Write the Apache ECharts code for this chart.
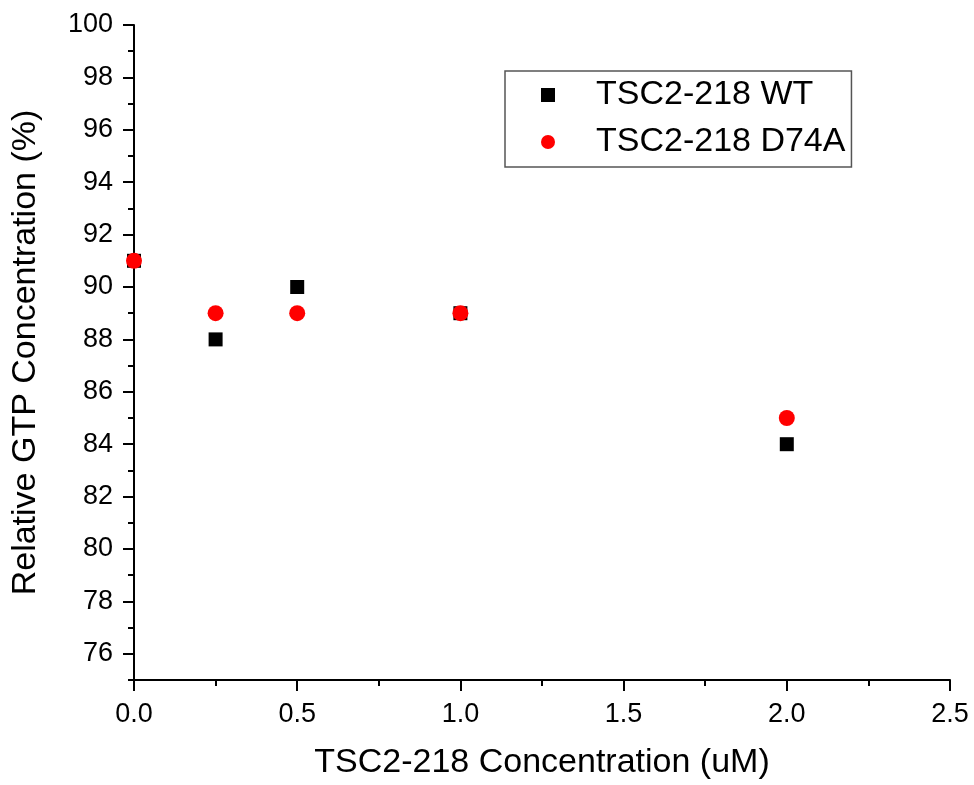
<!DOCTYPE html>
<html>
<head>
<meta charset="utf-8">
<script src="https://cdn.jsdelivr.net/npm/echarts@6/dist/echarts.min.js"></script>
<style>html,body{margin:0;padding:0;background:#fff}#c{width:974px;height:785px}</style>
</head>
<body>
<div id="c"></div>
<script>
var concentrations = [0, 0.25, 0.5, 1.0, 2.0];
var wtValues = [91, 88, 90, 89, 84];
var d74aValues = [91, 89, 89, 89, 85];
var seriesNames = ['TSC2-218 WT', 'TSC2-218 D74A'];
var yTickLabels = [76, 78, 80, 82, 84, 86, 88, 90, 92, 94, 96, 98, 100];
var yMinorTicks = [75, 77, 79, 81, 83, 85, 87, 89, 91, 93, 95, 97, 99];
var xTickLabels = [0, 0.5, 1.0, 1.5, 2.0, 2.5];

function pairs(xs, ys) { return xs.map(function (x, i) { return [x, ys[i]]; }); }

var FONT = 'Liberation Sans, Arial, sans-serif';
var chart = echarts.init(document.getElementById('c'), null, {renderer: 'canvas'});
chart.setOption({
  backgroundColor: '#fff',
  animation: false,
  textStyle: {fontFamily: FONT, color: '#000'},
  grid: {left: 134, right: 24, top: 25, bottom: 101, containLabel: false},
  legend: {
    orient: 'vertical', left: 505, top: 71,
    padding: [7, 6, 8, 36],
    itemWidth: 86, itemHeight: 14, itemGap: 13,
    symbolKeepAspect: true,
    borderColor: '#555', borderWidth: 1.5, backgroundColor: '#fff',
    textStyle: {fontSize: 34, color: '#000', fontFamily: FONT},
    data: [{name: seriesNames[0], icon: 'path://M0 0H10V10H0Z'}, {name: seriesNames[1], icon: 'circle'}]
  },
  xAxis: {
    type: 'value', min: 0, max: 2.5, interval: 0.5,
    name: 'TSC2-218 Concentration (uM)', nameLocation: 'middle', nameGap: 66,
    nameTextStyle: {fontSize: 34, color: '#000', fontFamily: FONT},
    axisLine: {show: true, onZero: false, lineStyle: {color: '#000', width: 2}},
    axisTick: {show: true, length: 11, lineStyle: {color: '#000', width: 2}, customValues: xTickLabels},
    minorTick: {show: true, splitNumber: 2, length: 6, lineStyle: {color: '#000', width: 2}},
    axisLabel: {fontSize: 27, color: '#000', margin: 21, fontFamily: FONT, customValues: xTickLabels,
      formatter: function (v) { return v.toFixed(1); }},
    splitLine: {show: false}
  },
  yAxis: [{
    type: 'value', min: 75, max: 100, interval: 1,
    name: 'Relative GTP Concentration (%)', nameLocation: 'middle', nameGap: 91,
    nameTextStyle: {fontSize: 34, color: '#000', fontFamily: FONT},
    axisLine: {show: true, onZero: false, lineStyle: {color: '#000', width: 2}},
    axisTick: {show: true, length: 11, lineStyle: {color: '#000', width: 2}, customValues: yTickLabels},
    axisLabel: {fontSize: 27, color: '#000', margin: 21, fontFamily: FONT, customValues: yTickLabels},
    splitLine: {show: false}
  }, {
    type: 'value', min: 75, max: 100, interval: 1, position: 'left', offset: 0,
    axisLine: {show: false},
    axisTick: {show: true, length: 6, lineStyle: {color: '#000', width: 2}, customValues: yMinorTicks},
    axisLabel: {show: false},
    splitLine: {show: false}
  }],
  series: [{
    name: seriesNames[0], type: 'scatter', symbol: 'rect', symbolSize: 14,
    itemStyle: {color: '#000', opacity: 1},
    data: pairs(concentrations, wtValues), z: 2
  }, {
    name: seriesNames[1], type: 'scatter', symbol: 'circle', symbolSize: 16,
    itemStyle: {color: '#ff0000', opacity: 1},
    data: pairs(concentrations, d74aValues), z: 3
  }]
});
</script>
</body>
</html>
